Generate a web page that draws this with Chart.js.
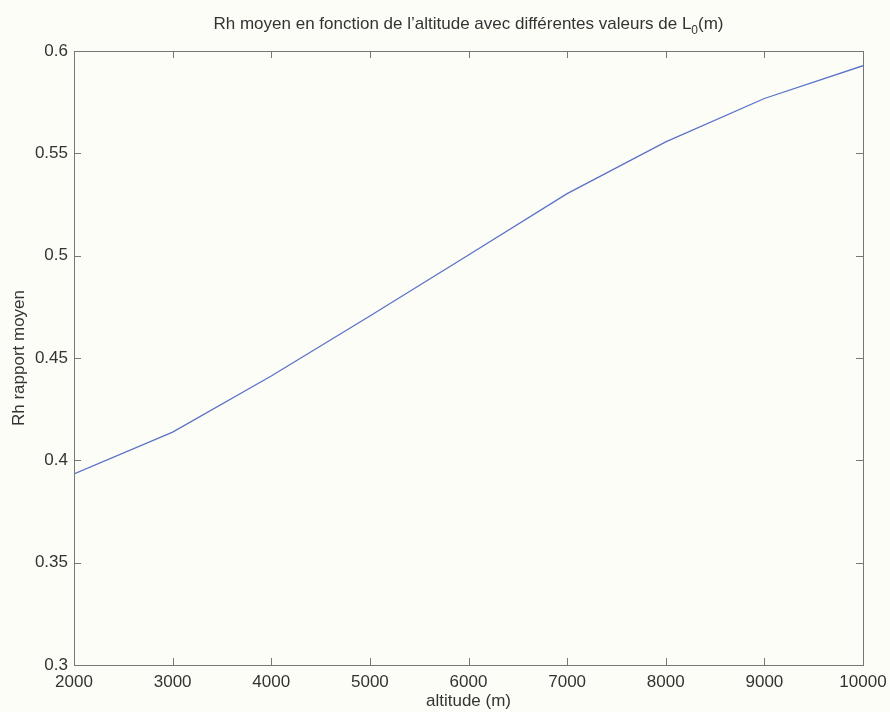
<!DOCTYPE html>
<html>
<head>
<meta charset="utf-8">
<script src="https://cdn.jsdelivr.net/npm/chart.js@4"></script>
<style>
  html, body { margin: 0; padding: 0; background: #fdfdf8; }
  #wrap { width: 890px; height: 712px; }
</style>
</head>
<body>
<div id="wrap"><canvas id="rhChart" width="890" height="712"></canvas></div>
<script>
// Data
const altitudes = [2000, 3000, 4000, 5000, 6000, 7000, 8000, 9000, 10000];
const rhMoyen = [0.3934, 0.4138, 0.4412, 0.4705, 0.5003, 0.5303, 0.5556, 0.5768, 0.5928];
const xTicks = [2000, 3000, 4000, 5000, 6000, 7000, 8000, 9000, 10000];
const yTicks = ['0.3', '0.35', '0.4', '0.45', '0.5', '0.55', '0.6'];

const titleMain = "Rh moyen en fonction de l\u2019altitude avec diff\u00e9rentes valeurs de L";
const titleSub = '0';
const titleEnd = '(m)';
const xLabel = 'altitude (m)';
const yLabel = 'Rh rapport moyen';

const fontFamily = '"Liberation Sans", Arial, Helvetica, sans-serif';
const frameColor = '#777777';
const textColor = '#333333';

// MATLAB-like box with inward ticks on all four sides + title with subscript
const matlabBox = {
    id: 'matlabBox',
    afterDatasetsDraw(chart) {
        const ctx = chart.ctx;
        const a = chart.chartArea;
        const xs = chart.scales.x;
        const ys = chart.scales.y;
        const len = 7;
        ctx.save();
        ctx.strokeStyle = frameColor;
        ctx.lineWidth = 1;
        ctx.beginPath();
        xTicks.forEach(v => {
            const px = Math.round(xs.getPixelForValue(v)) + 0.5;
            ctx.moveTo(px, a.bottom); ctx.lineTo(px, a.bottom - len);
            ctx.moveTo(px, a.top); ctx.lineTo(px, a.top + len);
        });
        yTicks.forEach(t => {
            const py = Math.round(ys.getPixelForValue(parseFloat(t))) + 0.5;
            ctx.moveTo(a.left, py); ctx.lineTo(a.left + len, py);
            ctx.moveTo(a.right, py); ctx.lineTo(a.right - len, py);
        });
        ctx.stroke();
        ctx.strokeRect(Math.round(a.left) + 0.5, Math.round(a.top) + 0.5,
            Math.round(a.right - a.left), Math.round(a.bottom - a.top));

        // title
        const big = '17px ' + fontFamily;
        const small = '12px ' + fontFamily;
        ctx.fillStyle = textColor;
        ctx.textBaseline = 'alphabetic';
        ctx.textAlign = 'left';
        ctx.font = big;
        const w1 = ctx.measureText(titleMain).width;
        const w3 = ctx.measureText(titleEnd).width;
        ctx.font = small;
        const w2 = ctx.measureText(titleSub).width;
        const cx = (a.left + a.right) / 2;
        let x = cx - (w1 + w2 + w3) / 2;
        const base = 29;
        ctx.font = big;
        ctx.fillText(titleMain, x, base);
        x += w1;
        ctx.font = small;
        ctx.fillText(titleSub, x, base + 5);
        x += w2;
        ctx.font = big;
        ctx.fillText(titleEnd, x, base);
        ctx.restore();
    }
};

const ctx = document.getElementById('rhChart').getContext('2d');
const rhChart = new Chart(ctx, {
    type: 'line',
    data: {
        datasets: [{
            label: 'Rh moyen',
            data: altitudes.map((alt, i) => ({ x: alt, y: rhMoyen[i] })),
            borderColor: '#5a72c8',
            borderWidth: 1.3,
            pointRadius: 0,
            tension: 0,
            fill: false
        }]
    },
    options: {
        responsive: false,
        animation: false,
        layout: { padding: { left: 0, right: 27, top: 51, bottom: 0 } },
        plugins: {
            legend: { display: false },
            title: { display: false },
            tooltip: { enabled: false }
        },
        scales: {
            x: {
                type: 'linear',
                min: 2000,
                max: 10000,
                afterBuildTicks: axis => { axis.ticks = xTicks.map(v => ({ value: v })); },
                afterFit: axis => {
                    axis.height = 47;
                    axis.paddingLeft = 0;
                    axis.paddingRight = 0;
                },
                grid: { display: false, drawTicks: false },
                border: { display: false },
                ticks: {
                    color: textColor,
                    padding: 7,
                    maxRotation: 0,
                    font: { family: fontFamily, size: 17 },
                    callback: v => String(v)
                },
                title: {
                    display: true,
                    text: xLabel,
                    color: textColor,
                    padding: { top: 0, bottom: 0 },
                    font: { family: fontFamily, size: 17 }
                }
            },
            y: {
                type: 'linear',
                min: 0.3,
                max: 0.6,
                afterBuildTicks: axis => { axis.ticks = yTicks.map(t => ({ value: parseFloat(t) })); },
                afterFit: axis => {
                    axis.width = 74;
                    axis.paddingTop = 0;
                    axis.paddingBottom = 0;
                },
                grid: { display: false, drawTicks: false },
                border: { display: false },
                ticks: {
                    color: textColor,
                    padding: 6,
                    font: { family: fontFamily, size: 17 },
                    callback: v => yTicks.find(t => Math.abs(parseFloat(t) - v) < 1e-9)
                },
                title: {
                    display: true,
                    text: yLabel,
                    color: textColor,
                    padding: { top: 9, bottom: 0 },
                    font: { family: fontFamily, size: 17 }
                }
            }
        }
    },
    plugins: [matlabBox]
});
</script>
</body>
</html>
